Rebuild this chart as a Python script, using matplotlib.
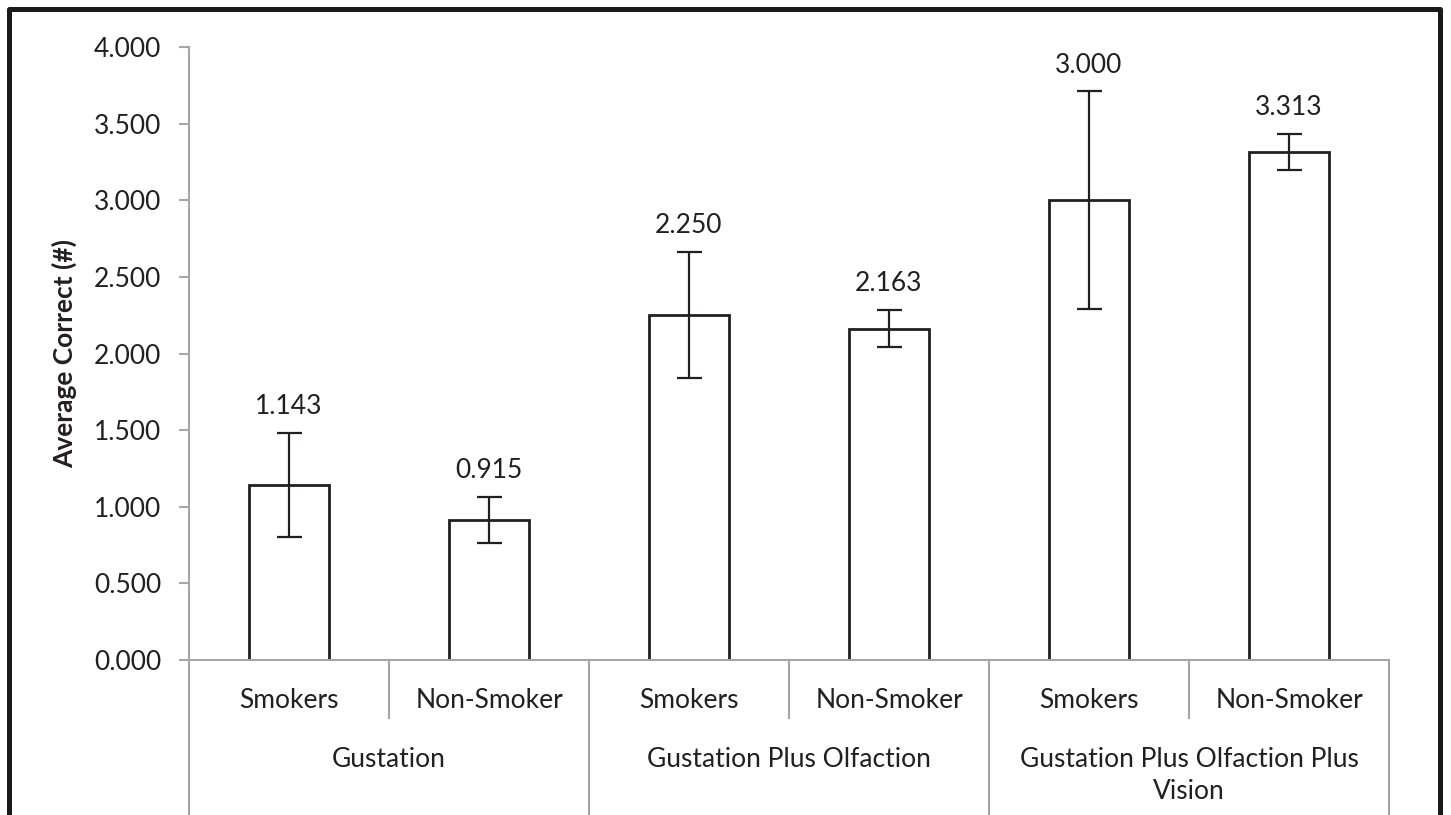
import matplotlib
matplotlib.use('Agg')
import matplotlib.pyplot as plt
import matplotlib.transforms as mtransforms
from matplotlib.lines import Line2D
import numpy as np

groups = ['Gustation', 'Gustation Plus Olfaction', 'Gustation Plus Olfaction Plus\nVision']
subgroups = ['Smokers', 'Non-Smoker']
means = [1.143, 0.915, 2.250, 2.163, 3.000, 3.313]
errors = [0.34, 0.15, 0.41, 0.12, 0.71, 0.117]
yticks = [0.0, 0.5, 1.0, 1.5, 2.0, 2.5, 3.0, 3.5, 4.0]

plt.rcParams['font.family'] = ['Lato', 'DejaVu Sans']
plt.rcParams['font.size'] = 19

grey = '#a6a6a6'
dark = '#231f20'

fig = plt.figure(figsize=(14.51, 8.15), dpi=100)
ax = fig.add_axes([189 / 1451, 155 / 815, 1200 / 1451, 613 / 815])

x = np.arange(len(means))
ax.bar(x, means, width=0.4, color='white', edgecolor=dark, linewidth=2)
ax.errorbar(x, means, yerr=errors, fmt='none', ecolor=dark, elinewidth=1.6,
            capsize=9, capthick=1.6)
for xi, m, e in zip(x, means, errors):
    ax.annotate('%.3f' % m, (xi, m + e), xytext=(0, 10), textcoords='offset points',
                ha='center', va='bottom', color=dark)

ax.set_xlim(-0.5, len(means) - 0.5)
ax.set_ylim(0, 4)
ax.set_yticks(yticks)
ax.set_yticklabels(['%.3f' % t for t in yticks])
ax.set_xticks([])
for s in ['top', 'right']:
    ax.spines[s].set_visible(False)
for s in ['left', 'bottom']:
    ax.spines[s].set_color(grey)
    ax.spines[s].set_linewidth(1.5)
ax.tick_params(axis='y', colors=grey, length=7, width=1.5, pad=13, labelcolor=dark)
ax.set_ylabel('Average Correct (#)', fontweight='bold', labelpad=12, color=dark)

# multi-level category axis
trans = mtransforms.blended_transform_factory(ax.transData, ax.transAxes)
sub_bottom = -58 / 613
grp_bottom = -160 / 613
for i in range(len(means)):
    ax.text(i, -40 / 613, subgroups[i % 2], transform=trans, ha='center', va='center',
            color=dark)
    if i % 2 == 1:
        ax.add_line(Line2D([i - 0.5, i - 0.5], [0, sub_bottom], transform=trans,
                           color=grey, lw=1.5, clip_on=False))
for g, name in enumerate(groups):
    ax.text(2 * g + 0.5, -87 / 613, name, transform=trans, ha='center', va='top',
            color=dark, linespacing=1.35)
for b in range(len(groups) + 1):
    ax.add_line(Line2D([2 * b - 0.5, 2 * b - 0.5], [0, grp_bottom], transform=trans,
                       color=grey, lw=1.5, clip_on=False))

# frame round the chart (bottom edge is cut off)
fig.add_artist(Line2D([8.5 / 1451, 8.5 / 1451, 1440 / 1451, 1440 / 1451],
                      [-0.05, 1 - 8.5 / 815, 1 - 8.5 / 815, -0.05],
                      transform=fig.transFigure, color='#1a1a1a', lw=3.6))

fig.savefig('out.png', dpi=100)
